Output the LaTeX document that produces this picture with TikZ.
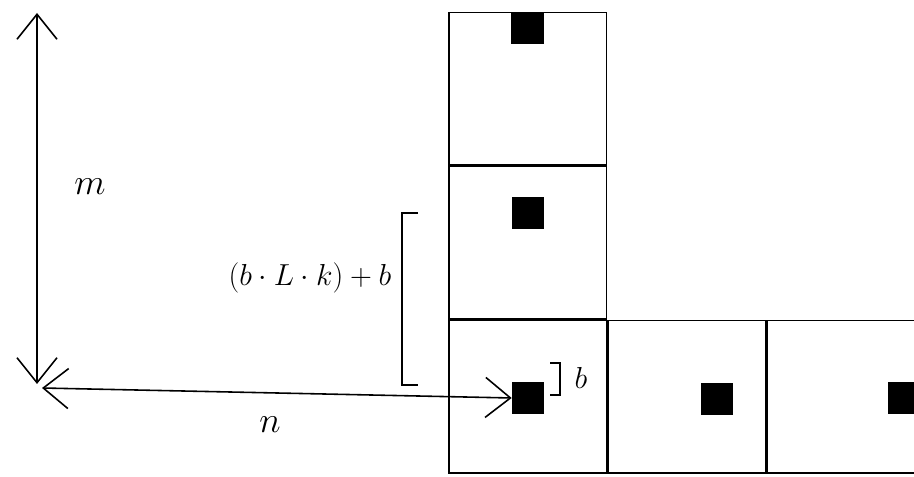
\documentclass[tikz,border=0pt]{standalone}
\usepackage{amsmath}
\usepackage{tikz}
\usetikzlibrary{arrows.meta,positioning}
\begin{document}
\begin{tikzpicture}[
  cell/.style={draw, minimum width=3.15cm, minimum height=3.05cm, inner sep=0pt},
  dot/.style={draw, fill=black, minimum size=0.62cm, inner sep=0pt},
  lbl/.style={font=\huge},
  line width=0.9pt, >={Straight Barb[length=5mm,width=8mm]}
]
\clip (0,0) rectangle (18.28,9.54);
% Cells
\node[cell] (c1) at (10.555,1.605) {};
\node[cell, above=0cm of c1] (c2) {};
\node[cell, above=0cm of c2] (c3) {};
\node[cell, right=0cm of c1] (c4) {};
\node[cell, right=0cm of c4] (c5) {};

% Black squares
\node[dot, anchor=north] (d3) at (c3.north) {};
\node[dot] (d2) at (10.56,5.28) {};
\node[dot] (d1) at (10.56,1.58) {};
\node[dot] (d4) at (14.34,1.56) {};
\node[dot] (d5) at (18.08,1.58) {};

% Axes
\coordinate (mtop) at (0.74,9.28);
\coordinate (mbot) at (0.74,1.86);
\coordinate (nleft) at (0.84,1.78);
\draw[<->] (mtop) -- (mbot);
\draw[<->] (nleft) -- (d1.west);
\node[lbl] (mlbl) at (1.8,5.8) {$m$};
\node[lbl] (nlbl) at (5.4,1.04) {$n$};

% Brackets
\draw (8.36,5.28) -- (8.04,5.28) -- (8.04,1.84) -- (8.36,1.84);
\node[font=\LARGE] (fml) at (6.2,3.98) {$(b\cdot L\cdot k)+b$};
\draw (11.0,2.28) -- (11.2,2.28) -- (11.2,1.64) -- (11.0,1.64);
\node[font=\LARGE] (blbl) at (11.62,1.98) {$b$};
\end{tikzpicture}
\end{document}
